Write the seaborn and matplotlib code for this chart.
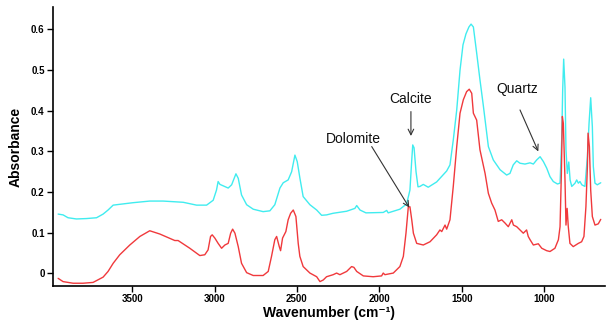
import numpy as np
import pandas as pd
import matplotlib
matplotlib.use("Agg")
import matplotlib.pyplot as plt
import seaborn as sns

# Spectrum: wavenumber (cm-1) and absorbance
top_wn = [3949, 3919, 3889, 3838, 3777, 3716, 3676, 3646, 3615, 3575, 3494, 3393, 3312, 3190, 3109,
          3048, 3008, 2988, 2978, 2967, 2917, 2896, 2870, 2856, 2836, 2805, 2765, 2705, 2664, 2634,
          2603, 2583, 2553, 2532, 2512, 2498, 2482, 2462, 2421, 2380, 2350, 2320, 2280, 2198, 2148,
          2137, 2117, 2081, 1976, 1955, 1946, 1875, 1834, 1814, 1803, 1797, 1789, 1777, 1765, 1753,
          1733, 1703, 1652, 1591, 1571, 1551, 1530, 1510, 1492, 1474, 1456, 1443, 1429, 1409, 1389,
          1369, 1338, 1308, 1267, 1227, 1207, 1187, 1166, 1146, 1116, 1085, 1065, 1045, 1024, 1004,
          984, 964, 944, 919, 903, 893, 887, 881, 873, 867, 859, 850, 842, 832, 812,
          802, 792, 782, 771, 752, 737, 727, 717, 707, 701, 691, 677, 656]
top_abs = [0.146, 0.144, 0.137, 0.134, 0.135, 0.137, 0.146, 0.156, 0.168, 0.170, 0.174, 0.178, 0.178, 0.175, 0.168,
           0.168, 0.180, 0.205, 0.226, 0.219, 0.210, 0.218, 0.245, 0.234, 0.193, 0.169, 0.158, 0.152, 0.154, 0.169,
           0.210, 0.223, 0.230, 0.250, 0.291, 0.275, 0.235, 0.189, 0.169, 0.156, 0.143, 0.144, 0.148, 0.153, 0.160,
           0.167, 0.156, 0.149, 0.150, 0.155, 0.149, 0.158, 0.171, 0.205, 0.279, 0.316, 0.309, 0.250, 0.213, 0.214,
           0.219, 0.212, 0.225, 0.252, 0.267, 0.328, 0.402, 0.500, 0.562, 0.589, 0.606, 0.613, 0.606, 0.542, 0.476,
           0.414, 0.312, 0.279, 0.255, 0.242, 0.246, 0.267, 0.277, 0.271, 0.269, 0.272, 0.269, 0.279, 0.287, 0.275,
           0.259, 0.238, 0.226, 0.220, 0.222, 0.328, 0.451, 0.527, 0.458, 0.304, 0.246, 0.274, 0.230, 0.214, 0.222,
           0.230, 0.222, 0.226, 0.218, 0.214, 0.287, 0.369, 0.432, 0.361, 0.263, 0.222, 0.218, 0.223]

bottom_wn = [3949, 3919, 3858, 3798, 3737, 3676, 3646, 3615, 3575, 3514, 3453, 3393, 3332, 3241, 3221,
             3150, 3089, 3059, 3039, 3024, 3014, 2998, 2978, 2957, 2937, 2917, 2902, 2890, 2876, 2856,
             2836, 2805, 2765, 2705, 2674, 2654, 2634, 2623, 2607, 2599, 2587, 2567, 2553, 2538, 2522,
             2506, 2492, 2482, 2462, 2421, 2380, 2360, 2340, 2320, 2280, 2259, 2239, 2198, 2168, 2154,
             2137, 2097, 2037, 1986, 1976, 1966, 1915, 1875, 1854, 1838, 1824, 1814, 1803, 1793, 1773,
             1733, 1692, 1652, 1632, 1621, 1601, 1591, 1571, 1551, 1530, 1510, 1490, 1470, 1454, 1439,
             1429, 1409, 1389, 1358, 1338, 1318, 1298, 1278, 1257, 1237, 1217, 1196, 1186, 1166, 1146,
             1126, 1106, 1096, 1085, 1065, 1035, 1014, 984, 964, 934, 913, 903, 895, 889, 883,
             873, 867, 860, 853, 843, 823, 792, 772, 758, 746, 737, 733, 725, 717, 707,
             691, 671, 656]
bottom_abs = [-0.012, -0.020, -0.024, -0.024, -0.022, -0.009, 0.005, 0.025, 0.046, 0.070, 0.091, 0.105, 0.097, 0.081, 0.081,
              0.062, 0.044, 0.046, 0.058, 0.091, 0.095, 0.087, 0.074, 0.062, 0.070, 0.074, 0.099, 0.109, 0.099, 0.066,
              0.025, 0.002, -0.005, -0.005, 0.005, 0.042, 0.083, 0.091, 0.066, 0.056, 0.087, 0.103, 0.132, 0.148, 0.156,
              0.140, 0.074, 0.042, 0.017, 0.001, -0.008, -0.020, -0.016, -0.008, -0.003, 0.001, -0.003, 0.005, 0.017, 0.015,
              0.005, -0.006, -0.008, -0.006, 0.001, -0.003, 0.001, 0.017, 0.042, 0.099, 0.163, 0.164, 0.132, 0.099, 0.074,
              0.070, 0.078, 0.095, 0.107, 0.103, 0.119, 0.109, 0.132, 0.214, 0.312, 0.394, 0.427, 0.447, 0.453, 0.443,
              0.394, 0.377, 0.304, 0.246, 0.197, 0.173, 0.156, 0.128, 0.132, 0.124, 0.115, 0.132, 0.119, 0.115, 0.107,
              0.099, 0.107, 0.091, 0.083, 0.070, 0.073, 0.062, 0.056, 0.054, 0.062, 0.083, 0.115, 0.246, 0.386, 0.369,
              0.230, 0.119, 0.160, 0.115, 0.074, 0.066, 0.074, 0.078, 0.091, 0.164, 0.263, 0.345, 0.312, 0.205, 0.140,
              0.119, 0.122, 0.133]

# annotations: label, text position, arrow tail and head (wavenumber, absorbance)
labels = ["Dolomite", "Calcite", "Quartz"]
label_xy = [(2160, 0.331), (1808, 0.428), (1162, 0.453)]
arrow_from = [(2046, 0.312), (1808, 0.398), (1146, 0.402)]
arrow_to = [(1818, 0.162), (1808, 0.338), (1035, 0.300)]

sns.set_style("ticks")
plt.rcParams['font.family'] = ['Liberation Sans', 'DejaVu Sans']
plt.rcParams['text.color'] = 'black'
plt.rcParams['axes.labelcolor'] = 'black'
plt.rcParams['xtick.color'] = 'black'
plt.rcParams['ytick.color'] = 'black'

fig = plt.figure(figsize=(6.13, 3.2), dpi=100)
ax = fig.add_axes([0.0865, 0.106, 0.9005, 0.872])

sns.lineplot(x=top_wn, y=top_abs, color='#40ECEF', linewidth=1.0, estimator=None, ax=ax)
sns.lineplot(x=bottom_wn, y=bottom_abs, color='#F0393C', linewidth=1.0, estimator=None, ax=ax)

for lab, txy, a0, a1 in zip(labels, label_xy, arrow_from, arrow_to):
    ax.text(txy[0], txy[1], lab, fontsize=10, ha='center', va='center', color='#111111')
    ax.annotate('', xy=a1, xytext=a0,
                arrowprops=dict(arrowstyle='->', color='#333333', lw=0.8, shrinkA=0, shrinkB=0))

ax.set_xlim(3980, 630)
ax.set_ylim(-0.031, 0.655)
ax.set_xticks([3500, 3000, 2500, 2000, 1500, 1000])
ax.set_yticks([0, 0.1, 0.2, 0.3, 0.4, 0.5, 0.6])
ax.set_yticklabels(['0', '0.1', '0.2', '0.3', '0.4', '0.5', '0.6'])
ax.tick_params(axis='both', labelsize=7, length=4, width=1, direction='out', color='black', pad=2)
for t in ax.get_xticklabels() + ax.get_yticklabels():
    t.set_fontweight('bold')

ax.set_xlabel('Wavenumber (cm\u207b\u00b9)', fontsize=10, fontweight='bold', labelpad=1)
ax.set_ylabel('Absorbance', fontsize=10, fontweight='bold', labelpad=6)

sns.despine(ax=ax)
for s in ['left', 'bottom']:
    ax.spines[s].set_color('black')
    ax.spines[s].set_linewidth(1.2)

fig.savefig('out.png', dpi=100)
